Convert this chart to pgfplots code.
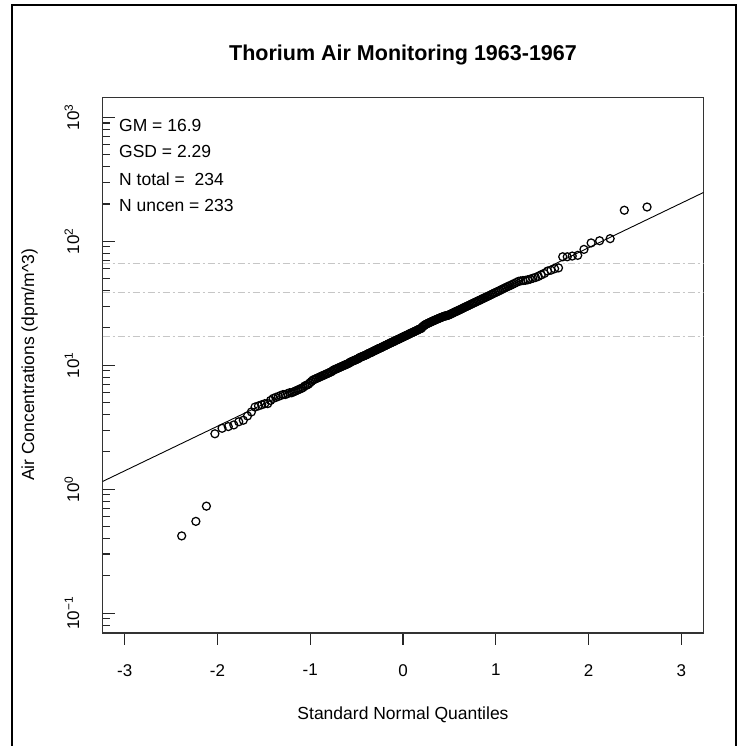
\documentclass[border=0pt]{standalone}
\usepackage{fontspec}
\setmainfont{Liberation Sans}
\usepackage{pgfplots}
\usepackage{pgfplotstable}
\pgfplotsset{compat=1.18}
\pgfplotstableread{
z c
-2.3862 0.42
-2.2333 0.55
-2.1196 0.73
-2.0281 2.8
-1.9510 3.1
-1.8839 3.2
-1.8244 3.3
-1.7708 3.5
-1.7219 3.6
-1.6766 3.9
-1.6346 4.2
-1.5954 4.6
-1.5584 4.7
-1.5234 4.8
-1.4902 4.9
-1.4586 4.9
-1.4284 5.2
-1.3994 5.4
-1.3715 5.5
-1.3447 5.6
-1.3188 5.7
-1.2938 5.8
-1.2695 5.8
-1.2460 5.9
-1.2231 6.0
-1.2009 6.0
-1.1793 6.1
-1.1581 6.2
-1.1375 6.3
-1.1174 6.4
-1.0977 6.5
-1.0784 6.6
-1.0595 6.8
-1.0410 6.9
-1.0228 7.0
-1.0050 7.2
-0.9875 7.4
-0.9702 7.6
-0.9533 7.7
-0.9367 7.8
-0.9203 7.9
-0.9041 8.0
-0.8881 8.1
-0.8724 8.2
-0.8569 8.3
-0.8416 8.4
-0.8265 8.5
-0.8116 8.6
-0.7969 8.7
-0.7823 8.8
-0.7679 8.9
-0.7537 9.1
-0.7396 9.2
-0.7256 9.3
-0.7118 9.4
-0.6981 9.5
-0.6845 9.6
-0.6711 9.7
-0.6578 9.8
-0.6447 9.9
-0.6316 10.0
-0.6186 10.1
-0.6058 10.2
-0.5930 10.3
-0.5803 10.4
-0.5678 10.6
-0.5552 10.7
-0.5428 10.8
-0.5305 10.9
-0.5182 11.0
-0.5060 11.1
-0.4939 11.2
-0.4820 11.3
-0.4701 11.5
-0.4582 11.6
-0.4464 11.7
-0.4347 11.8
-0.4230 11.9
-0.4113 12.0
-0.3998 12.1
-0.3883 12.2
-0.3767 12.4
-0.3653 12.5
-0.3539 12.6
-0.3426 12.7
-0.3313 12.8
-0.3200 13.0
-0.3088 13.1
-0.2977 13.2
-0.2865 13.3
-0.2754 13.5
-0.2644 13.6
-0.2533 13.7
-0.2424 13.8
-0.2314 13.9
-0.2204 14.1
-0.2095 14.2
-0.1986 14.3
-0.1878 14.5
-0.1769 14.6
-0.1661 14.7
-0.1553 14.9
-0.1445 15.0
-0.1337 15.1
-0.1230 15.3
-0.1122 15.4
-0.1015 15.5
-0.0908 15.7
-0.0801 15.8
-0.0694 16.0
-0.0587 16.1
-0.0480 16.2
-0.0373 16.4
-0.0267 16.5
-0.0160 16.7
-0.0053 16.8
0.0053 17.0
0.0160 17.1
0.0267 17.3
0.0373 17.4
0.0480 17.6
0.0587 17.7
0.0694 17.9
0.0801 18.1
0.0908 18.2
0.1015 18.4
0.1122 18.5
0.1230 18.7
0.1337 18.9
0.1445 19.0
0.1553 19.2
0.1661 19.4
0.1769 19.6
0.1878 19.7
0.1986 19.9
0.2095 20.4
0.2204 20.7
0.2314 21.0
0.2424 21.3
0.2533 21.5
0.2644 21.7
0.2754 21.9
0.2865 22.1
0.2977 22.3
0.3088 22.5
0.3200 22.7
0.3313 22.9
0.3426 23.1
0.3539 23.3
0.3653 23.5
0.3767 23.7
0.3883 23.9
0.3998 24.1
0.4113 24.3
0.4230 24.5
0.4347 24.7
0.4464 24.9
0.4582 25.0
0.4701 25.1
0.4820 25.3
0.4939 25.4
0.5060 25.7
0.5182 26.0
0.5305 26.2
0.5428 26.5
0.5552 26.8
0.5678 27.1
0.5803 27.3
0.5930 27.6
0.6058 27.9
0.6186 28.2
0.6316 28.5
0.6447 28.8
0.6578 29.2
0.6711 29.5
0.6845 29.8
0.6981 30.1
0.7118 30.5
0.7256 30.8
0.7396 31.2
0.7537 31.6
0.7679 31.9
0.7823 32.3
0.7969 32.7
0.8116 33.1
0.8265 33.5
0.8416 33.9
0.8569 34.4
0.8724 34.8
0.8881 35.3
0.9041 35.7
0.9203 36.2
0.9367 36.7
0.9533 37.2
0.9702 37.8
0.9875 38.3
1.0050 38.9
1.0228 39.4
1.0410 40.0
1.0595 40.7
1.0784 41.3
1.0977 42.0
1.1174 42.7
1.1375 43.4
1.1581 44.1
1.1793 44.9
1.2009 45.7
1.2231 46.6
1.2460 47.5
1.2695 47.9
1.2938 48.2
1.3188 48.4
1.3447 48.9
1.3715 49.5
1.3994 50.3
1.4284 51.0
1.4586 52.0
1.4902 53.5
1.5234 55.0
1.5584 57.5
1.5954 58.5
1.6346 60.0
1.6766 61.0
1.7219 75.0
1.7708 75.0
1.8244 76.0
1.8839 77.0
1.9510 86.0
2.0281 97.0
2.1196 101.0
2.2333 105.0
2.3862 178.0
2.6313 189.0
}\thoriumdata
\begin{document}
\begin{tikzpicture}
\useasboundingbox (0,0) rectangle (740pt,746pt);
\fill[white] (0,0) rectangle (740pt,746pt);
\draw[line width=1.3pt] (12pt,0pt) -- (12pt,741pt) -- (736pt,741pt) -- (736pt,0pt);
\begin{axis}[
  at={(102.5pt,113pt)}, anchor=south west,
  width=601pt, height=535.5pt, scale only axis,
  xmin=-3.24, xmax=3.24,
  ymode=log, ymin=0.06918, ymax=1445.4,
  xtick={-3,-2,-1,0,1,2,3},
  xticklabels={-3,-2,-1,0,1,2,3},
  ytick={0.1,1,10,100,1000},
  yticklabels={10\textsuperscript{−1},10\textsuperscript{0},10\textsuperscript{1},10\textsuperscript{2},10\textsuperscript{3}},
  minor ytick={0.08,0.09,0.2,0.3,0.4,0.5,0.6,0.7,0.8,0.9,2,3,4,5,6,7,8,9,20,30,40,50,60,70,80,90,200,300,400,500,600,700,800,900},
  tick pos=left,
  xtick align=outside, ytick align=inside,
  major tick length=12pt, minor tick length=7pt,
  axis line style={line width=1.2pt, black!80},
  every tick/.style={black!85, line width=1.1pt},
  tick label style={font=\fontsize{17}{20}\selectfont, black},
  xticklabel style={anchor=north, inner sep=0pt},
  xticklabel shift=19pt,
  yticklabel style={rotate=90, anchor=south, inner sep=0pt},
  yticklabel shift=23pt,
  clip=true,
]
\addplot[gray!45, line width=1pt, dash pattern=on 7pt off 3pt on 2pt off 3pt] coordinates {(-3.24,16.9) (3.24,16.9)};
\addplot[gray!45, line width=1pt, dash pattern=on 7pt off 3pt on 2pt off 3pt] coordinates {(-3.24,38.7) (3.24,38.7)};
\addplot[gray!45, line width=1pt, dash pattern=on 7pt off 3pt on 2pt off 3pt] coordinates {(-3.24,66.0) (3.24,66.0)};
\addplot[only marks, mark=o, mark size=4.0pt, mark options={line width=1.25pt, black}] table[x=z, y=c] {\thoriumdata};
\addplot[black, line width=0.9pt] coordinates {(-3.24,1.1536) (3.24,247.6)};
\end{axis}
\node[font=\bfseries\fontsize{21.5}{24}\selectfont, anchor=base] at (403pt,685pt) {Thorium Air Monitoring 1963-1967};
\begin{scope}[every node/.style={font=\fontsize{17.5}{20}\selectfont, anchor=base west, inner sep=0pt}]
\node at (119pt,614.5pt) {GM = 16.9};
\node at (119pt,588pt) {GSD = 2.29};
\node at (119pt,560.5pt) {N total =\ \ 234};
\node at (119pt,534.5pt) {N uncen = 233};
\end{scope}
\node[font=\fontsize{17.5}{20}\selectfont, anchor=base, inner sep=0pt] at (403pt,27pt) {Standard Normal Quantiles};
\node[font=\fontsize{17.5}{20}\selectfont, anchor=base, inner sep=0pt, rotate=90] at (34pt,381pt) {Air Concentrations (dpm/m\textasciicircum 3)};
\end{tikzpicture}
\end{document}
